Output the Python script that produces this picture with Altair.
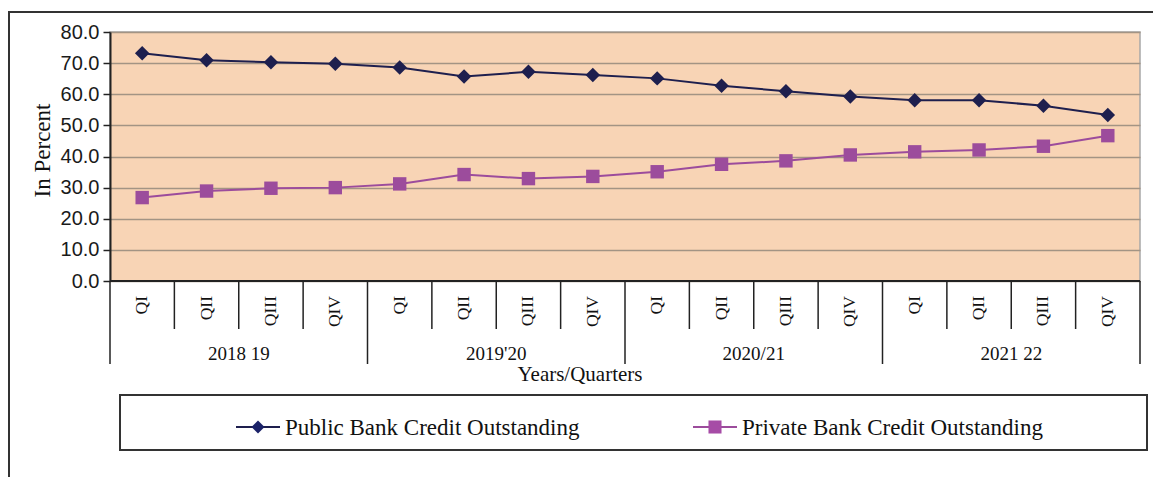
import altair as alt
import pandas as pd

quarters = ["QI", "QII", "QIII", "QIV"] * 4
years = ["2018 19", "2019'20", "2020/21", "2021 22"]
series = ["Public Bank Credit Outstanding", "Private Bank Credit Outstanding"]
public = [73.2, 70.9, 70.3, 69.8, 68.6, 65.7, 67.2, 66.2, 65.1, 62.7, 61.0, 59.3, 58.1, 58.1, 56.3, 53.3]
private = [26.8, 28.9, 29.8, 30.0, 31.2, 34.2, 32.9, 33.6, 35.1, 37.5, 38.6, 40.5, 41.5, 42.1, 43.3, 46.7]
y_ticks = [0, 10, 20, 30, 40, 50, 60, 70, 80]

SERIF = "Liberation Serif"
SANS = "Liberation Sans"
NAVY = "#1B2268"
PURPLE = "#A64CA6"

rows = []
for i, q in enumerate(quarters):
    rows.append({"q": i, "quarter": q, "series": series[0], "value": public[i]})
    rows.append({"q": i, "quarter": q, "series": series[1], "value": private[i]})
df = pd.DataFrame(rows)

qdf = pd.DataFrame({"q": list(range(len(quarters))), "quarter": quarters})
bounds = pd.DataFrame({"b": list(range(len(quarters) + 1))})
ydf = pd.DataFrame({"yi": list(range(len(years))), "year": years})

xscale = alt.Scale(domain=[0, len(quarters)])
yscale = alt.Scale(domain=[0, 80], nice=False)
W, H = 1030, 249

base = alt.Chart(df).transform_calculate(xpos="datum.q + 0.5")


def yaxis():
    return alt.Axis(
        values=y_ticks, tickCount=9, format=".1f", title="In Percent", labelOverlap=False,
        labelFont=SANS, labelFontSize=20, labelColor="#1a1a1a", labelPadding=4,
        tickSize=7, tickColor="#222", tickWidth=1.5,
        domainColor="#222", domainWidth=2,
        grid=True, gridColor="#A39484", gridWidth=1.5,
        titleFont=SERIF, titleFontSize=23, titleFontWeight="normal", titleColor="#111",
        titleX=-68, titleY=118, titleBaseline="middle", titleAngle=270,
    )


color = alt.Color("series:N", scale=alt.Scale(domain=series, range=[NAVY, PURPLE]), legend=None)

lines = base.mark_line(strokeWidth=2).encode(
    x=alt.X("xpos:Q", scale=xscale, axis=None),
    y=alt.Y("value:Q", scale=yscale, axis=yaxis()),
    color=alt.Color("series:N", scale=alt.Scale(domain=series, range=["#1E1F4E", "#9C4C9C"]), legend=None),
    detail="series:N",
)

points = base.mark_point(filled=True, opacity=1, strokeWidth=1).encode(
    x=alt.X("xpos:Q", scale=xscale, axis=None),
    y=alt.Y("value:Q", scale=yscale, axis=yaxis()),
    color=color,
    shape=alt.Shape("series:N", scale=alt.Scale(domain=series, range=["diamond", "square"]), legend=None),
    size=alt.Size("series:N", scale=alt.Scale(domain=series, range=[210, 180]), legend=None),
)

bottom = alt.Chart(pd.DataFrame({"a": [0], "b": [len(quarters)], "value": [0]})).mark_rule(
    color="#222", strokeWidth=2
).encode(x=alt.X("a:Q", scale=xscale, axis=None), x2="b:Q", y=alt.Y("value:Q", scale=yscale, axis=yaxis()))

qlines = alt.Chart(bounds).transform_filter("datum.b % 4 != 0").mark_rule(
    color="#222", strokeWidth=1.5
).encode(x=alt.X("b:Q", scale=xscale, axis=None), y=alt.value(H), y2=alt.value(297))

ylines = alt.Chart(bounds).transform_filter("datum.b % 4 == 0").mark_rule(
    color="#222", strokeWidth=1.5
).encode(x=alt.X("b:Q", scale=xscale, axis=None), y=alt.value(H), y2=alt.value(332))

qlabels = alt.Chart(qdf).transform_calculate(xpos="datum.q + 0.5").mark_text(
    angle=270, align="right", baseline="middle", font=SERIF, fontSize=17.5, color="#111"
).encode(x=alt.X("xpos:Q", scale=xscale, axis=None), y=alt.value(264), text="quarter:N")

ylabels = alt.Chart(ydf).transform_calculate(xpos="datum.yi * 4 + 2").mark_text(
    align="center", baseline="middle", font=SERIF, fontSize=19, color="#111"
).encode(x=alt.X("xpos:Q", scale=xscale, axis=None), y=alt.value(322), text="year:N")

one = pd.DataFrame({"t": ["Years/Quarters"]})
xtitle = alt.Chart(one).mark_text(
    align="center", baseline="alphabetic", font=SERIF, fontSize=21, color="#111"
).encode(x=alt.value(470), y=alt.value(349), text="t:N")

frame = alt.Chart(pd.DataFrame({"k": [0]})).mark_rect(
    fill="transparent", stroke="#333", strokeWidth=2
).encode(x=alt.value(-101), x2=alt.value(1080), y=alt.value(-20), y2=alt.value(480))

legbox = alt.Chart(pd.DataFrame({"k": [0]})).mark_rect(
    fill="white", stroke="#333", strokeWidth=2
).encode(x=alt.value(10), x2=alt.value(1037), y=alt.value(363), y2=alt.value(418))

sdf = pd.DataFrame({"series": series})
leg_layers = []
for idx, (x0, col, lcol, shp) in enumerate([(126, NAVY, "#1E1F4E", "diamond"), (583, PURPLE, "#9C4C9C", "square")]):
    d = alt.Chart(sdf).transform_filter(alt.datum.series == series[idx])
    leg_layers.append(d.mark_rule(color=lcol, strokeWidth=2).encode(
        x=alt.value(x0), x2=alt.value(x0 + 44), y=alt.value(395)))
    leg_layers.append(d.mark_point(shape=shp, filled=True, opacity=1, color=col, size=170).encode(
        x=alt.value(x0 + 22), y=alt.value(395)))
    leg_layers.append(d.mark_text(align="left", baseline="middle", font=SERIF, fontSize=23, color="#111").encode(
        x=alt.value(x0 + 49), y=alt.value(396), text="series:N"))

chart = alt.layer(
    frame, lines, points, bottom, qlines, ylines, qlabels, ylabels, xtitle, legbox, *leg_layers
).properties(
    width=W, height=H,
    autosize=alt.AutoSizeParams(type="none"),
    padding={"left": 102, "top": 24, "right": 13, "bottom": 196},
    background="white",
).configure_view(
    fill="#F8D4B5", stroke="#A8A8A8", strokeWidth=1.5
)

chart.save("out.html", embed_options={"renderer": "svg", "actions": False})
